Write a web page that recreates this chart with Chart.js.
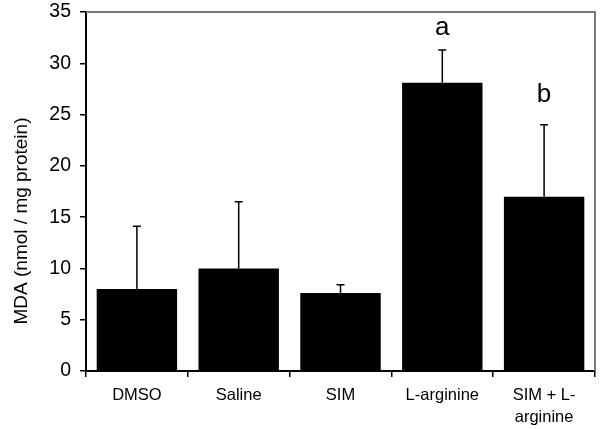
<!DOCTYPE html>
<html>
<head>
<meta charset="utf-8">
<script src="https://cdn.jsdelivr.net/npm/chart.js@4"></script>
<style>
  body { margin: 0; background: #fff; }
</style>
</head>
<body>
<canvas id="mdaChart" width="600" height="429"></canvas>
<script>
// group names (multi-line ones split into arrays)
const groups = ["DMSO", "Saline", "SIM", "L-arginine", ["SIM + L-", "arginine"]];
// mean MDA and upper error (SD)
const mdaMeans = [8.0, 10.0, 7.6, 28.1, 17.0];
const mdaErrors = [6.1, 6.5, 0.8, 3.2, 7.0];
// significance letters and the value their baseline sits at
const sigLetters = ["", "", "", "a", "b"];
const sigLevels = [0, 0, 0, 32.8, 26.2];
const yTicks = [0, 5, 10, 15, 20, 25, 30, 35];

const FONT = "'Liberation Sans', Arial, sans-serif";

// grey plot frame on top and right
const frame = {
  id: "frame",
  beforeDatasetsDraw(chart) {
    const { ctx, chartArea: a } = chart;
    ctx.save();
    ctx.strokeStyle = "#7a7a7a";
    ctx.lineWidth = 2;
    ctx.beginPath();
    ctx.moveTo(a.left, a.top);
    ctx.lineTo(a.right, a.top);
    ctx.lineTo(a.right, a.bottom);
    ctx.stroke();
    ctx.restore();
  }
};

// upper error bars and letters
const errorBars = {
  id: "errorBars",
  afterDatasetsDraw(chart) {
    const { ctx } = chart;
    const y = chart.scales.y;
    const bars = chart.getDatasetMeta(0).data;
    ctx.save();
    ctx.strokeStyle = "#000";
    ctx.lineWidth = 1.5;
    bars.forEach((bar, i) => {
      const yBase = y.getPixelForValue(mdaMeans[i]);
      const yTop = y.getPixelForValue(mdaMeans[i] + mdaErrors[i]);
      ctx.beginPath();
      ctx.moveTo(bar.x, yBase);
      ctx.lineTo(bar.x, yTop);
      ctx.moveTo(bar.x - 4, yTop);
      ctx.lineTo(bar.x + 4, yTop);
      ctx.stroke();
      if (sigLetters[i]) {
        ctx.fillStyle = "#000";
        ctx.font = "26px " + FONT;
        ctx.textAlign = "center";
        ctx.textBaseline = "alphabetic";
        ctx.fillText(sigLetters[i], bar.x, y.getPixelForValue(sigLevels[i]));
      }
    });
    ctx.restore();
  }
};

// y-axis title, sits a bit below the axis centre in the original
const yTitle = {
  id: "yTitle",
  afterDraw(chart) {
    const { ctx } = chart;
    ctx.save();
    ctx.translate(22, 221);
    ctx.rotate(-Math.PI / 2);
    ctx.font = "19px " + FONT;
    ctx.fillStyle = "#000";
    ctx.textAlign = "center";
    ctx.textBaseline = "middle";
    ctx.fillText("MDA (nmol / mg protein)", 0, 0);
    ctx.restore();
  }
};

new Chart(document.getElementById("mdaChart"), {
  type: "bar",
  data: {
    labels: groups,
    datasets: [{
      data: mdaMeans,
      backgroundColor: "#000",
      borderWidth: 0,
      barPercentage: 0.79,
      categoryPercentage: 1.0
    }]
  },
  options: {
    responsive: false,
    animation: false,
    layout: { padding: { top: 12, right: 5, left: 0, bottom: 0 } },
    plugins: { legend: { display: false }, tooltip: { enabled: false } },
    scales: {
      x: {
        afterFit: (s) => { s.height = 58; s.paddingLeft = 0; s.paddingRight = 0; },
        grid: { drawOnChartArea: false, tickLength: 6, color: "#000", lineWidth: 1.5 },
        border: { color: "#000", width: 2 },
        ticks: {
          color: "#000",
          padding: 7,
          maxRotation: 0,
          font: { family: FONT, size: 16.5, lineHeight: 1.35 }
        }
      },
      y: {
        min: 0,
        max: 35,
        afterFit: (s) => { s.width = 86; s.paddingTop = 0; s.paddingBottom = 0; },
        afterBuildTicks: (s) => { s.ticks = yTicks.map(v => ({ value: v })); },
        grid: { drawOnChartArea: false, tickLength: 6, color: "#000", lineWidth: 1.5 },
        border: { color: "#000", width: 2 },
        ticks: {
          color: "#000",
          padding: 9,
          font: { family: FONT, size: 19.5 }
        }
      }
    }
  },
  plugins: [frame, errorBars, yTitle]
});
</script>
</body>
</html>
